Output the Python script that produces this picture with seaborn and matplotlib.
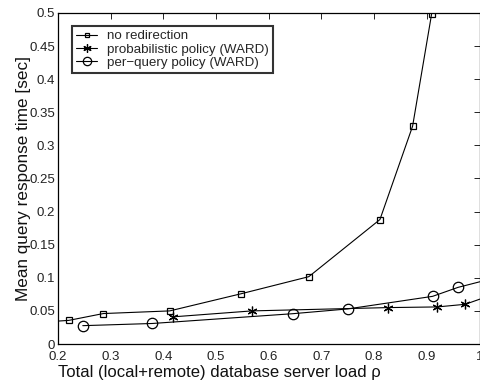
import matplotlib
matplotlib.use("Agg")
import matplotlib.pyplot as plt
import seaborn as sns
import pandas as pd

# Mean query response time vs. total database server load
load_none = [0.15, 0.2205, 0.286, 0.412, 0.548, 0.676, 0.811, 0.873, 0.909]
resp_none = [0.032, 0.0357, 0.046, 0.050, 0.076, 0.1017, 0.188, 0.329, 0.498]

load_prob = [0.418, 0.568, 0.826, 0.920, 0.973, 1.03]
resp_prob = [0.041, 0.050, 0.055, 0.056, 0.060, 0.076]

load_perq = [0.247, 0.379, 0.646, 0.750, 0.911, 0.959, 1.03]
resp_perq = [0.0277, 0.031, 0.0458, 0.053, 0.072, 0.0855, 0.100]

labels = ["no redirection", "probabilistic policy (WARD)", "per\u2212query policy (WARD)"]
xticks = [0.2, 0.3, 0.4, 0.5, 0.6, 0.7, 0.8, 0.9, 1.0]
xticklabels = ["0.2", "0.3", "0.4", "0.5", "0.6", "0.7", "0.8", "0.9", "1"]
yticks = [0, 0.05, 0.1, 0.15, 0.2, 0.25, 0.3, 0.35, 0.4, 0.45, 0.5]
yticklabels = ["0", "0.05", "0.1", "0.15", "0.2", "0.25", "0.3", "0.35", "0.4", "0.45", "0.5"]

sns.set_theme(style="white")
plt.rcParams["font.family"] = ["Liberation Sans", "DejaVu Sans"]
plt.rcParams["xtick.direction"] = "in"
plt.rcParams["ytick.direction"] = "in"

fig = plt.figure(figsize=(4.81, 3.81), dpi=100)
ax = fig.add_axes([0.1206, 0.0971, 0.9969 - 0.1206, 0.9659 - 0.0971])

series = [
    (load_none, resp_none, dict(marker="s", markersize=4.2, markerfacecolor="none")),
    (load_prob, resp_prob, dict(marker=(6, 2, 0), markersize=7, markerfacecolor="black")),
    (load_perq, resp_perq, dict(marker="o", markersize=7.5, markerfacecolor="none")),
]
for (xs, ys, mk), lab in zip(series, labels):
    df = pd.DataFrame({"load": xs, "resp": ys})
    sns.lineplot(data=df, x="load", y="resp", ax=ax, sort=False, color="black",
                 linewidth=0.8, markeredgecolor="black", markeredgewidth=0.9,
                 label=lab, **mk)

ax.set_xlim(0.2, 1.0)
ax.set_ylim(0, 0.5)
ax.set_xticks(xticks)
ax.set_xticklabels(xticklabels)
ax.set_yticks(yticks)
ax.set_yticklabels(yticklabels)
ax.tick_params(axis="both", which="both", top=True, right=True, length=4,
               width=0.6, color="black", labelsize=9.5, labelcolor="#222222")
ax.tick_params(axis="x", pad=5)
ax.tick_params(axis="y", pad=2)
for sp in ax.spines.values():
    sp.set_color("black")
    sp.set_linewidth(0.9)

ax.set_xlabel("Total (local+remote) database server load \u03c1", fontsize=12.0, color="#111111")
ax.xaxis.set_label_coords(0.384, -0.064)
ax.set_ylabel("Mean query response time [sec]", fontsize=12.3, labelpad=-1.5, color="#111111")

leg = ax.legend(loc="upper left", bbox_to_anchor=(0.033, 0.961), fontsize=9.6,
                frameon=True, fancybox=False, handlelength=1.6, handletextpad=0.75,
                borderpad=0.3, labelspacing=0.08, borderaxespad=0)
leg.get_frame().set_edgecolor("black")
leg.get_frame().set_linewidth(1.5)
for h, ms in zip(leg.get_lines(), [3.5, 6, 6]):
    h.set_markersize(ms)

fig.savefig("out.png", dpi=100)
